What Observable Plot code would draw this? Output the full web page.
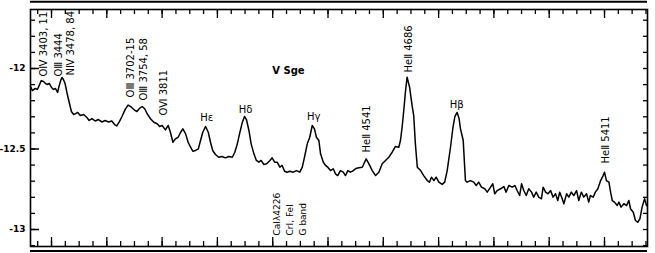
<!DOCTYPE html>
<html>
<head>
<meta charset="utf-8">
<script src="https://cdn.jsdelivr.net/npm/d3@7"></script>
<script src="https://cdn.jsdelivr.net/npm/@observablehq/plot@0.6"></script>
<style>
  html, body { margin: 0; padding: 0; background: #fff; }
  #chart { width: 655px; height: 253px; overflow: hidden; }
</style>
</head>
<body>
<div id="chart"></div>
<script>
// Spectrum of V Sge: wavelength (Å) and log flux
const wavelength = [
  3324, 3331, 3341, 3349, 3357, 3363, 3371, 3378, 3384, 3392,
  3400, 3407, 3414, 3422, 3427, 3433, 3438, 3443, 3449, 3455,
  3464, 3472, 3480, 3487, 3495, 3504, 3516, 3528, 3536, 3546,
  3558, 3570, 3582, 3594, 3606, 3618, 3628, 3636, 3645, 3654,
  3667, 3677, 3688, 3700, 3709, 3718, 3728, 3737, 3746, 3758,
  3770, 3782, 3791, 3800, 3812, 3822, 3830, 3839, 3848, 3858,
  3867, 3875, 3885, 3894, 3903, 3911, 3921, 3931, 3939, 3947,
  3957, 3967, 3975, 3983, 3993, 4005, 4017, 4029, 4041, 4054,
  4063, 4072, 4080, 4090, 4098, 4105, 4114, 4122, 4132, 4141,
  4150, 4158, 4168, 4178, 4190, 4198, 4207, 4216, 4226, 4234,
  4243, 4252, 4262, 4274, 4286, 4298, 4307, 4315, 4325, 4334,
  4343, 4351, 4358, 4367, 4373, 4383, 4391, 4399, 4409, 4419,
  4427, 4435, 4445, 4455, 4463, 4472, 4481, 4489, 4499, 4511,
  4524, 4538, 4548, 4560, 4572, 4584, 4596, 4608, 4620, 4632,
  4644, 4656, 4662, 4668, 4674, 4680, 4686, 4695, 4705, 4710,
  4716, 4723, 4735, 4746, 4759, 4767, 4774, 4783, 4791, 4801,
  4813, 4822, 4831, 4843, 4852, 4859, 4867, 4874, 4879, 4889,
  4897, 4903, 4915, 4927, 4936, 4945, 4955, 4967, 4976, 4988,
  4996, 5003, 5012, 5024, 5036, 5044, 5054, 5066, 5076, 5084,
  5093, 5100, 5108, 5117, 5126, 5136, 5144, 5153, 5162, 5172,
  5178, 5187, 5196, 5205, 5214, 5223, 5231, 5238, 5247, 5253,
  5263, 5271, 5280, 5289, 5299, 5307, 5316, 5325, 5335, 5343,
  5349, 5359, 5367, 5376, 5386, 5395, 5400, 5407, 5416, 5422,
  5428, 5436, 5446, 5452, 5460, 5470, 5480, 5488, 5494, 5504,
  5512, 5520, 5528, 5536, 5545, 5552
];
const logFlux = [
  -12.112, -12.137, -12.124, -12.130, -12.099, -12.075, -12.081, -12.093, -12.099, -12.093,
  -12.118, -12.130, -12.124, -12.149, -12.112, -12.075, -12.056, -12.068, -12.093, -12.143,
  -12.211, -12.267, -12.286, -12.280, -12.273, -12.292, -12.286, -12.304, -12.323, -12.311,
  -12.326, -12.317, -12.332, -12.323, -12.332, -12.326, -12.348, -12.357, -12.332, -12.301,
  -12.252, -12.227, -12.239, -12.258, -12.267, -12.248, -12.236, -12.250, -12.281, -12.312,
  -12.334, -12.343, -12.360, -12.354, -12.381, -12.354, -12.396, -12.458, -12.437, -12.427,
  -12.396, -12.375, -12.406, -12.458, -12.489, -12.514, -12.509, -12.499, -12.447, -12.396,
  -12.360, -12.396, -12.458, -12.509, -12.534, -12.551, -12.547, -12.555, -12.547, -12.551,
  -12.520, -12.468, -12.406, -12.335, -12.298, -12.317, -12.385, -12.468, -12.530, -12.571,
  -12.582, -12.571, -12.596, -12.592, -12.571, -12.555, -12.582, -12.582, -12.613, -12.602,
  -12.638, -12.644, -12.638, -12.644, -12.634, -12.644, -12.613, -12.551, -12.468, -12.427,
  -12.354, -12.375, -12.427, -12.447, -12.530, -12.582, -12.602, -12.613, -12.634, -12.623,
  -12.654, -12.665, -12.634, -12.644, -12.665, -12.634, -12.644, -12.637, -12.623, -12.617,
  -12.613, -12.561, -12.592, -12.634, -12.665, -12.644, -12.592, -12.571, -12.551, -12.520,
  -12.484, -12.489, -12.447, -12.365, -12.261, -12.147, -12.054, -12.116, -12.240, -12.292,
  -12.468, -12.613, -12.634, -12.665, -12.696, -12.706, -12.675, -12.696, -12.675, -12.706,
  -12.720, -12.706, -12.634, -12.489, -12.365, -12.298, -12.273, -12.311, -12.373, -12.447,
  -12.696, -12.706, -12.696, -12.706, -12.727, -12.706, -12.737, -12.747, -12.768, -12.737,
  -12.716, -12.778, -12.758, -12.747, -12.733, -12.768, -12.727, -12.737, -12.727, -12.758,
  -12.789, -12.716, -12.758, -12.789, -12.747, -12.768, -12.799, -12.768, -12.799, -12.809,
  -12.737, -12.768, -12.778, -12.758, -12.799, -12.778, -12.820, -12.768, -12.809, -12.840,
  -12.778, -12.799, -12.768, -12.789, -12.758, -12.820, -12.768, -12.799, -12.778, -12.830,
  -12.789, -12.799, -12.768, -12.747, -12.696, -12.665, -12.644, -12.696, -12.706, -12.768,
  -12.820, -12.830, -12.851, -12.830, -12.861, -12.840, -12.851, -12.820, -12.871, -12.893,
  -12.944, -12.955, -12.934, -12.861, -12.809, -12.851
];

// Axis ticks
const xMinorTicks = d3.range(3350, 5551, 50);
const xMajorTicks = d3.range(3400, 5401, 200);
const yMinorTicks = [-13.1, -13.0, -12.9, -12.8, -12.7, -12.6, -12.5, -12.4, -12.3, -12.2, -12.1, -12.0, -11.9, -11.8, -11.7];
const yLabelTicks = [-13, -12.5, -12];

// Line identifications (rotated), anchored at their lower end
const lineLabels = ["OⅣ 3403, 11", "OⅢ 3444", "NⅣ 3478, 84", "OⅢ 3702-15", "OⅢ 3754, 58", "OⅥ 3811", "HeⅡ 4541", "HeⅡ 4686", "HeⅡ 5411"];
const lineLabelWavelength = [3371, 3425, 3469, 3686, 3733, 3805, 4539, 4691, 5404];
const lineLabelFlux = [-12.050, -12.050, -12.043, -12.180, -12.199, -12.292, -12.522, -12.025, -12.590];

// Balmer line labels (horizontal)
const balmerLabels = ["Hε", "Hδ", "Hγ", "Hβ"];
const balmerWavelength = [3961, 4102, 4348, 4865];
const balmerFlux = [-12.304, -12.255, -12.298, -12.224];

// Absorption features (rotated, below spectrum)
const absLabels = ["CaIλ4226", "CrI, FeI", "G band"];
const absWavelength = [4217, 4264, 4311];
const absFlux = [-13.037, -13.037, -13.037];

// Object name
const objectName = ["V Sge"];
const objectWavelength = [4257];
const objectFlux = [-12.012];

// Edges of neighbouring panels visible in the scan
const neighbourEdges = [-11.585, -13.134];

const spectrum = wavelength.map((w, i) => ({wavelength: w, flux: logFlux[i]}));
const lineIds = lineLabels.map((t, i) => ({t, w: lineLabelWavelength[i], f: lineLabelFlux[i]}));
const balmer = balmerLabels.map((t, i) => ({t, w: balmerWavelength[i], f: balmerFlux[i]}));
const absIds = absLabels.map((t, i) => ({t, w: absWavelength[i], f: absFlux[i]}));
const title = objectName.map((t, i) => ({t, w: objectWavelength[i], f: objectFlux[i]}));

const chart = Plot.plot({
  width: 655,
  height: 253,
  marginLeft: 30,
  marginRight: 8,
  marginTop: 9,
  marginBottom: 7,
  style: {background: "#fff", color: "#000", fontFamily: "DejaVu Sans"},
  x: {domain: [3324, 5555.5]},
  y: {domain: [-13.1056, -11.6335]},
  marks: [
    Plot.ruleY(neighbourEdges, {stroke: "#000", strokeWidth: 2}),
    Plot.axisX({anchor: "bottom", ticks: xMinorTicks, tickSize: -5, tickFormat: () => "", label: null, strokeWidth: 1.3}),
    Plot.axisX({anchor: "bottom", ticks: xMajorTicks, tickSize: -9, tickFormat: () => "", label: null, strokeWidth: 1.3}),
    Plot.axisX({anchor: "top", ticks: xMinorTicks, tickSize: -4, tickFormat: () => "", label: null, strokeWidth: 1.3}),
    Plot.axisX({anchor: "top", ticks: xMajorTicks, tickSize: -8, tickFormat: () => "", label: null, strokeWidth: 1.3}),
    Plot.axisY({anchor: "left", ticks: yMinorTicks, tickSize: -5, tickFormat: () => "", label: null, strokeWidth: 1.3}),
    Plot.axisY({anchor: "left", ticks: yLabelTicks, tickSize: -9, tickPadding: 14, tickFormat: d => String(d), label: null, strokeWidth: 1.5, fontSize: 9, fontWeight: "bold"}),
    Plot.axisY({anchor: "right", ticks: yMinorTicks, tickSize: -5, tickFormat: () => "", label: null, strokeWidth: 1.3}),
    Plot.frame({stroke: "#000", strokeWidth: 1.6}),
    Plot.line(spectrum, {x: "wavelength", y: "flux", stroke: "#000", strokeWidth: 1.5, strokeLinejoin: "round"}),
    Plot.text(lineIds, {x: "w", y: "f", text: "t", rotate: -90, textAnchor: "start", lineAnchor: "middle", fontSize: 10, fill: "#000"}),
    Plot.text(absIds, {x: "w", y: "f", text: "t", rotate: -90, textAnchor: "start", lineAnchor: "middle", fontSize: 9, fill: "#000"}),
    Plot.text(balmer, {x: "w", y: "f", text: "t", textAnchor: "middle", lineAnchor: "middle", fontSize: 10, fill: "#000"}),
    Plot.text(title, {x: "w", y: "f", text: "t", textAnchor: "middle", lineAnchor: "middle", fontSize: 10, fontWeight: "bold", fill: "#000"})
  ]
});
document.getElementById("chart").appendChild(chart);
</script>
</body>
</html>
